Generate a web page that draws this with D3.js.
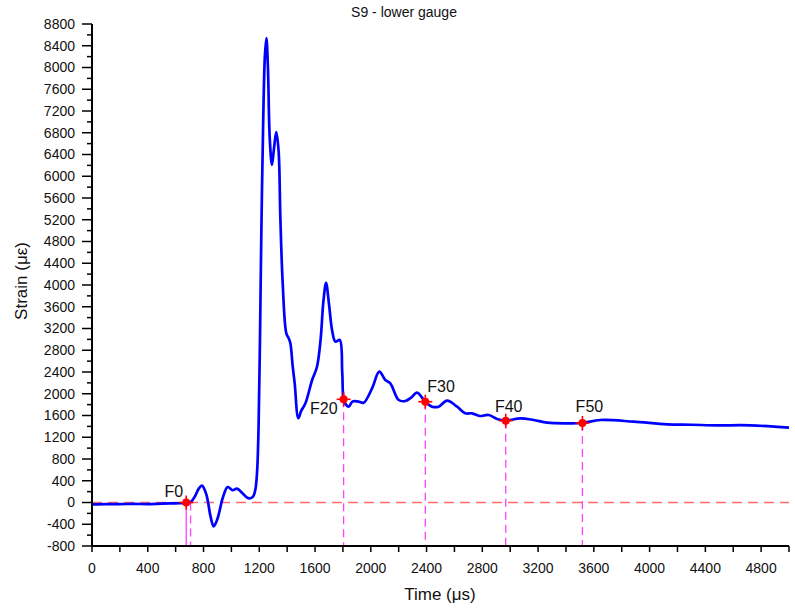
<!DOCTYPE html>
<html>
<head>
<meta charset="utf-8">
<script src="https://cdn.jsdelivr.net/npm/d3@7"></script>
<style>
  html, body { margin: 0; padding: 0; background: #fff; }
  svg { display: block; font-family: "Liberation Sans", Arial, sans-serif; }
</style>
</head>
<body>
<svg id="chart" width="795" height="608"></svg>
<script>
// Strain history of gauge S9 (lower), time in microseconds
const timeUs = [0, 100, 200, 300, 400, 500, 600, 676, 707, 740, 765, 789, 820, 850, 873, 900, 940, 973, 1009, 1040, 1080, 1110, 1131, 1155, 1172, 1185, 1195, 1205, 1215, 1228, 1240, 1251, 1262, 1275, 1291, 1305, 1322, 1339, 1351, 1368, 1394, 1411, 1423, 1440, 1454, 1480, 1500, 1531, 1579, 1614, 1640, 1660, 1679, 1700, 1722, 1746, 1777, 1795, 1805, 1822, 1841, 1870, 1913, 1949, 2009, 2061, 2104, 2140, 2200, 2248, 2290, 2332, 2391, 2440, 2487, 2547, 2619, 2678, 2726, 2781, 2846, 2906, 2968, 3073, 3169, 3265, 3408, 3518, 3647, 3886, 4126, 4300, 4484, 4723, 5000];
const strain = [-35, -30, -30, -25, -30, -20, -15, -10, 5, 120, 250, 310, 150, -250, -440, -300, 100, 285, 225, 255, 170, 95, 77, 110, 240, 600, 1400, 3000, 5000, 7000, 8200, 8540, 8000, 6700, 6210, 6500, 6810, 6450, 5256, 4032, 3112, 3020, 2928, 2500, 2192, 1550, 1680, 1824, 2253, 2497, 3000, 3700, 4040, 3650, 3173, 2958, 2989, 2400, 1898, 1800, 1762, 1860, 1854, 1836, 2100, 2406, 2253, 2192, 1885, 1867, 1930, 2020, 1854, 1762, 1762, 1873, 1762, 1640, 1640, 1591, 1609, 1536, 1505, 1548, 1517, 1468, 1456, 1462, 1517, 1487, 1438, 1430, 1419, 1419, 1376];

// Named frame points
const markerNames = ["F0", "F20", "F30", "F40", "F50"];
const markerTimes = [676, 1805, 2391, 2968, 3518];
const markerStrain = [0, 1898, 1854, 1505, 1462];
const onsetDashTime = 707;

const xTicks = [0, 400, 800, 1200, 1600, 2000, 2400, 2800, 3200, 3600, 4000, 4400, 4800];
const yTicks = [-800, -400, 0, 400, 800, 1200, 1600, 2000, 2400, 2800, 3200, 3600, 4000, 4400, 4800, 5200, 5600, 6000, 6400, 6800, 7200, 7600, 8000, 8400, 8800];

const svg = d3.select("#chart");
const plotLeft = 92, plotRight = 789, plotTop = 24, plotBottom = 546;

const x = d3.scaleLinear().domain([0, 5000]).range([plotLeft, plotRight]);
const y = d3.scaleLinear().domain([-800, 8800]).range([plotBottom, plotTop]);

// minor ticks
const xMinor = d3.range(0, 5001, 200);
const yMinor = d3.range(-800, 8801, 200);

// Zero reference line
svg.append("line")
  .attr("x1", x(0)).attr("x2", x(5000))
  .attr("y1", y(0)).attr("y2", y(0))
  .attr("stroke", "#ff6b6b").attr("stroke-width", 1.3)
  .attr("stroke-dasharray", "10,6");

// Vertical guide lines from each frame marker
const guides = svg.append("g");
markerTimes.forEach((t, i) => {
  const solid = i === 0;
  guides.append("line")
    .attr("x1", x(t)).attr("x2", x(t))
    .attr("y1", y(markerStrain[i])).attr("y2", plotBottom)
    .attr("stroke", "#ff40ff").attr("stroke-width", 1.3)
    .attr("stroke-dasharray", solid ? null : "8,5");
});
guides.append("line")
  .attr("x1", x(onsetDashTime)).attr("x2", x(onsetDashTime))
  .attr("y1", y(0)).attr("y2", plotBottom)
  .attr("stroke", "#ff40ff").attr("stroke-width", 1.3)
  .attr("stroke-dasharray", "8,5");

// Strain curve
const line = d3.line()
  .x((d, i) => x(timeUs[i]))
  .y(d => y(d))
  .curve(d3.curveCatmullRom.alpha(0.5));

svg.append("path")
  .datum(strain)
  .attr("d", line)
  .attr("fill", "none")
  .attr("stroke", "#0000ff")
  .attr("stroke-width", 2.7)
  .attr("stroke-linejoin", "round");

// Frame markers
const mk = svg.append("g");
markerTimes.forEach((t, i) => {
  const cx = x(t), cy = y(markerStrain[i]);
  mk.append("line").attr("x1", cx - 7).attr("x2", cx + 7).attr("y1", cy).attr("y2", cy)
    .attr("stroke", "#ff0000").attr("stroke-width", 1.6);
  mk.append("line").attr("x1", cx).attr("x2", cx).attr("y1", cy - 7).attr("y2", cy + 7)
    .attr("stroke", "#ff0000").attr("stroke-width", 1.6);
  mk.append("circle").attr("cx", cx).attr("cy", cy).attr("r", 4).attr("fill", "#ff0000");
});

// Marker labels
const labelOffsets = [[-3, -6, "end"], [-6, 15, "end"], [2, -10, "start"], [3, -9, "middle"], [7, -11, "middle"]];
markerNames.forEach((name, i) => {
  const [dx, dy, anchor] = labelOffsets[i];
  svg.append("text")
    .attr("x", x(markerTimes[i]) + dx)
    .attr("y", y(markerStrain[i]) + dy)
    .attr("text-anchor", anchor)
    .attr("font-size", 16)
    .attr("fill", "#111")
    .text(name);
});

// Axes
const axisG = svg.append("g");
axisG.append("line").attr("x1", plotLeft).attr("x2", plotLeft).attr("y1", plotTop).attr("y2", plotBottom)
  .attr("stroke", "#000").attr("stroke-width", 2);
axisG.append("line").attr("x1", plotLeft).attr("x2", plotRight).attr("y1", plotBottom).attr("y2", plotBottom)
  .attr("stroke", "#000").attr("stroke-width", 2);

yMinor.forEach(v => {
  const major = v % 400 === 0;
  axisG.append("line").attr("x1", plotLeft - (major ? 10 : 5)).attr("x2", plotLeft)
    .attr("y1", y(v)).attr("y2", y(v)).attr("stroke", "#000").attr("stroke-width", 1.5);
});
xMinor.forEach(v => {
  axisG.append("line").attr("x1", x(v)).attr("x2", x(v))
    .attr("y1", plotBottom).attr("y2", plotBottom + 6).attr("stroke", "#000").attr("stroke-width", 1.5);
});

yTicks.forEach(v => {
  axisG.append("text").attr("x", plotLeft - 17).attr("y", y(v)).attr("dy", "0.35em")
    .attr("text-anchor", "end").attr("font-size", 14).attr("fill", "#111").text(v);
});
xTicks.forEach(v => {
  axisG.append("text").attr("x", x(v)).attr("y", 573)
    .attr("text-anchor", "middle").attr("font-size", 14).attr("fill", "#111").text(v);
});

// Titles
svg.append("text").attr("x", 404).attr("y", 17).attr("text-anchor", "middle")
  .attr("font-size", 14).attr("fill", "#111").text("S9 - lower gauge");
svg.append("text").attr("x", 440).attr("y", 600).attr("text-anchor", "middle")
  .attr("font-size", 17).attr("fill", "#111").text("Time (μs)");
svg.append("text").attr("transform", "translate(27,281) rotate(-90)")
  .attr("text-anchor", "middle").attr("font-size", 17).attr("fill", "#111").text("Strain (με)");
</script>
</body>
</html>
